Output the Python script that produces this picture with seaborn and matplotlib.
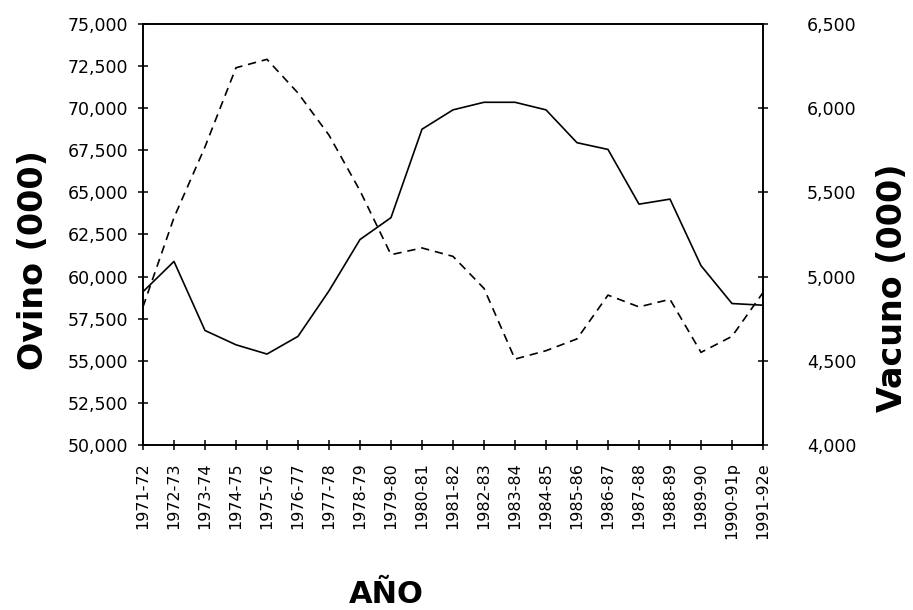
import matplotlib
matplotlib.use("Agg")
import matplotlib.pyplot as plt
import matplotlib.ticker as mticker
import seaborn as sns
import pandas as pd

# valores (miles de cabezas)
periodos = ['1971-72', '1972-73', '1973-74', '1974-75', '1975-76', '1976-77',
            '1977-78', '1978-79', '1979-80', '1980-81', '1981-82', '1982-83',
            '1983-84', '1984-85', '1985-86', '1986-87', '1987-88', '1988-89',
            '1989-90', '1990-91p', '1991-92e']
ovino = [59100, 60900, 56800, 55950, 55400, 56450, 59150, 62200, 63500, 68750,
         69900, 70350, 70350, 69900, 67950, 67550, 64300, 64600, 60650, 58400, 58300]
vacuno = [4820, 5350, 5770, 6240, 6290, 6090, 5840, 5510, 5130, 5170,
          5120, 4930, 4510, 4560, 4630, 4890, 4820, 4865, 4550, 4645, 4905]

df = pd.DataFrame({'idx': range(len(periodos)), 'periodo': periodos,
                   'ovino': ovino, 'vacuno': vacuno})

sns.set_style('ticks')
plt.rcParams['font.family'] = ['DejaVu Sans']
plt.rcParams['text.color'] = 'black'
plt.rcParams['xtick.color'] = 'black'
plt.rcParams['ytick.color'] = 'black'

fig, ax = plt.subplots(figsize=(9.13, 6.10), dpi=100)
fig.subplots_adjust(left=0.1566, right=0.8357, top=0.9607, bottom=0.2705)

sns.lineplot(data=df, x='idx', y='ovino', ax=ax, color='black', lw=1.2, sort=False)
ax2 = ax.twinx()
sns.lineplot(data=df, x='idx', y='vacuno', ax=ax2, color='black', lw=1.2, sort=False)
ax2.lines[0].set_dashes((5, 3.5))

ax.set_xlim(0, len(periodos) - 1)
ax.set_ylim(50000, 75000)
ax2.set_ylim(4000, 6500)
ax.set_yticks(range(50000, 75001, 2500))
ax2.set_yticks(range(4000, 6501, 500))
fmt = mticker.FuncFormatter(lambda v, p: f'{int(v):,}')
ax.yaxis.set_major_formatter(fmt)
ax2.yaxis.set_major_formatter(fmt)

ax.set_xticks(df['idx'])
ax.set_xticklabels(periodos, rotation=90, fontsize=11.5)

for a in (ax, ax2):
    for s in a.spines.values():
        s.set_visible(True)
        s.set_linewidth(1.2)
        s.set_color('black')

ax.tick_params(axis='y', direction='inout', length=7, width=1.1, labelsize=12.5, pad=7)
ax.tick_params(axis='x', direction='inout', length=7, width=1.1, pad=9)
ax2.tick_params(axis='y', direction='inout', length=7, width=1.1, labelsize=12.5, pad=28)

ax.set_xlabel('')
ax.set_ylabel('')
ax2.set_ylabel('')

fig.text(0.037, 0.574, 'Ovino (000)', rotation=90, fontsize=24, fontweight='bold',
         ha='center', va='center')
fig.text(0.977, 0.528, 'Vacuno (000)', rotation=90, fontsize=24, fontweight='bold',
         ha='center', va='center')
fig.text(0.423, 0.025, 'AÑO', fontsize=22, fontweight='bold', ha='center', va='center')

fig.savefig('out.png', dpi=100)
